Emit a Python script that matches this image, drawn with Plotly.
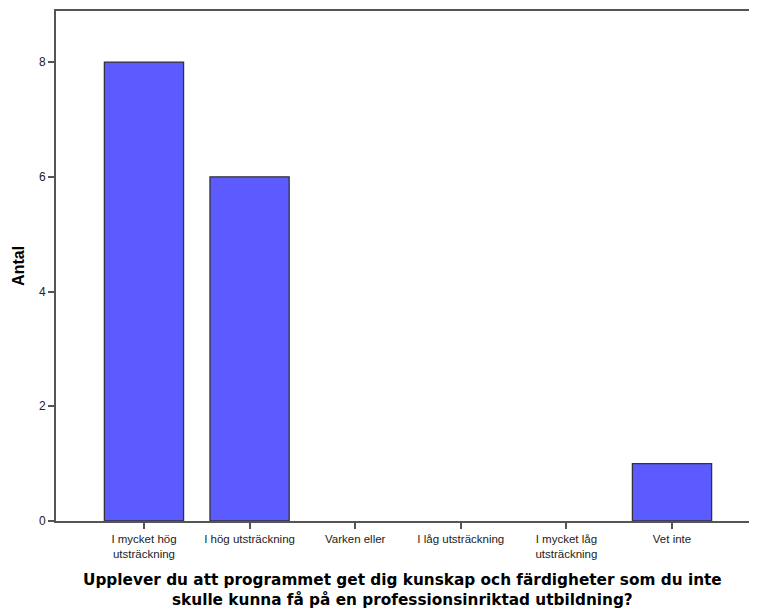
import plotly.graph_objects as go

kategorier = [
    "I mycket hög<br>utsträckning",
    "I hög utsträckning",
    "Varken eller",
    "I låg utsträckning",
    "I mycket låg<br>utsträckning",
    "Vet inte",
]
antal = [8, 6, 0, 0, 0, 1]
y_ticks = [0, 2, 4, 6, 8]

FARG_STAPEL = "#5B5BFF"
FARG_LINJE = "#555555"

# ingen kantlinje på tomma staplar
kantbredd = [1.3 if v else 0 for v in antal]

fig = go.Figure(
    go.Bar(
        x=kategorier, y=antal,
        marker=dict(color=FARG_STAPEL, line=dict(color="#333333", width=kantbredd)),
        width=0.75,
    )
)

# sidans body har 8px marginal, så figuren görs lite mindre än fönstret
fig.update_layout(
    width=741, height=602,
    paper_bgcolor="white", plot_bgcolor="white",
    margin=dict(l=48, r=0, t=3, b=89),
    font=dict(family="Liberation Sans, Arial", size=11.5, color="#222222"),
    showlegend=False,
    annotations=[
        dict(
            text="<b>Upplever du att programmet get dig kunskap och färdigheter som du inte<br>"
                 "skulle kunna få på en professionsinriktad utbildning?</b>",
            xref="paper", yref="paper", x=0.5, y=-0.094, yanchor="top",
            showarrow=False, align="center",
            font=dict(family="DejaVu Sans", size=15.3, color="#000000"),
        ),
        dict(
            text="<b>Antal</b>", textangle=-90,
            xref="paper", yref="paper", x=-0.055, y=0.5, xanchor="center",
            showarrow=False,
            font=dict(family="Liberation Sans, Arial", size=16, color="#000000"),
        ),
    ],
)

fig.update_xaxes(
    range=[-0.833, 5.729],
    showline=True, linecolor=FARG_LINJE, linewidth=2, mirror=True,
    ticks="outside", ticklen=6, tickcolor=FARG_LINJE, tickwidth=1.5,
    showgrid=False, tickfont=dict(size=11.5, color="#222222"),
)
fig.update_yaxes(
    range=[0, 8.89], tickvals=y_ticks,
    showline=True, linecolor=FARG_LINJE, linewidth=2,
    ticks="outside", ticklen=6, tickcolor=FARG_LINJE, tickwidth=1.5,
    showgrid=False, zeroline=False, tickfont=dict(size=12, color="#222222"),
)

fig.write_html("out.html")
